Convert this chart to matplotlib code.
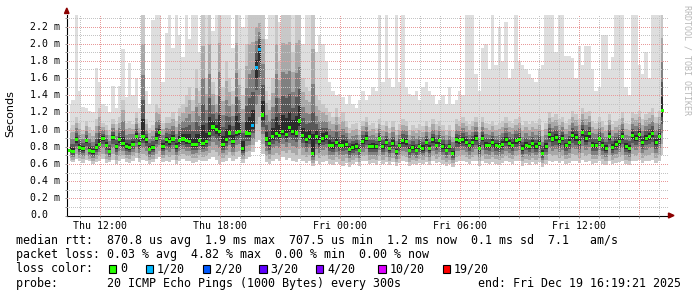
import matplotlib
matplotlib.use("Agg")
import matplotlib.pyplot as plt
from matplotlib.patches import Polygon, Rectangle
import numpy as np

# samples every 10 minutes, first one Thu 10:30 (hours since Thu 00:00)
t_start = 10.5
step = 1 / 6

# median rtt in ms
median = [
    0.76, 0.74, 0.88, 0.79, 0.78, 0.87,
    0.76, 0.74, 0.79, 0.83, 0.90, 0.82,
    0.74, 0.91, 0.80, 0.88, 0.84, 0.80,
    0.79, 0.83, 0.92, 0.84, 0.92, 0.88,
    0.77, 0.79, 0.90, 0.97, 0.80, 0.88,
    0.86, 0.89, 0.80, 0.87, 0.89, 0.87,
    0.86, 0.83, 0.83, 0.87, 0.84, 0.86,
    0.95, 1.03, 1.00, 0.98, 0.83, 0.88,
    0.96, 0.86, 0.97, 0.98, 0.78, 0.96,
    0.95, 1.05, 1.72, 1.93, 1.17, 0.89,
    0.84, 0.92, 0.95, 0.93, 0.98, 0.94,
    1.02, 0.98, 0.96, 1.10, 0.93, 0.88,
    0.92, 0.72, 0.92, 0.86, 0.90, 0.92,
    0.82, 0.81, 0.85, 0.81, 0.82, 0.83,
    0.77, 0.79, 0.80, 0.76, 0.86, 0.90,
    0.80, 0.80, 0.80, 0.89, 0.80, 0.85,
    0.78, 0.84, 0.74, 0.81, 0.87, 0.86,
    0.76, 0.79, 0.76, 0.80, 0.78, 0.85,
    0.78, 0.88, 0.82, 0.87, 0.80, 0.76,
    0.80, 0.72, 0.88, 0.87, 0.88, 0.85,
    0.81, 0.85, 0.90, 0.78, 0.90, 0.82,
    0.81, 0.85, 0.81, 0.80, 0.83, 0.88,
    0.84, 0.82, 0.87, 0.88, 0.78, 0.82,
    0.80, 0.84, 0.80, 0.84, 0.72, 0.80,
    0.94, 0.89, 0.91, 0.86, 0.90, 0.81,
    0.85, 0.93, 0.91, 0.85, 0.97, 0.90,
    0.95, 0.82, 0.81, 0.89, 0.81, 0.78,
    0.92, 0.79, 0.83, 0.86, 0.92, 0.80,
    0.78, 0.93, 0.90, 0.94, 0.85, 0.90,
    0.92, 0.95, 0.85, 0.92, 1.22,
]

# fastest ping
low = [
    0.64, 0.62, 0.66, 0.63, 0.61, 0.65,
    0.63, 0.60, 0.62, 0.64, 0.66, 0.61,
    0.62, 0.65, 0.60, 0.63, 0.66, 0.62,
    0.61, 0.64, 0.67, 0.62, 0.65, 0.63,
    0.60, 0.62, 0.66, 0.68, 0.62, 0.64,
    0.62, 0.65, 0.60, 0.63, 0.66, 0.63,
    0.64, 0.61, 0.62, 0.65, 0.63, 0.64,
    0.66, 0.68, 0.65, 0.60, 0.62, 0.64,
    0.67, 0.63, 0.66, 0.68, 0.61, 0.66,
    0.68, 0.74, 0.85, 0.88, 0.72, 0.62,
    0.60, 0.64, 0.66, 0.63, 0.68, 0.65,
    0.67, 0.64, 0.62, 0.66, 0.63, 0.61,
    0.64, 0.58, 0.63, 0.60, 0.62, 0.64,
    0.60, 0.59, 0.62, 0.60, 0.58, 0.61,
    0.57, 0.60, 0.62, 0.58, 0.63, 0.64,
    0.60, 0.61, 0.59, 0.63, 0.60, 0.62,
    0.59, 0.62, 0.58, 0.61, 0.63, 0.62,
    0.58, 0.60, 0.59, 0.61, 0.60, 0.62,
    0.59, 0.63, 0.61, 0.62, 0.60, 0.58,
    0.60, 0.57, 0.62, 0.63, 0.64, 0.62,
    0.60, 0.63, 0.64, 0.58, 0.63, 0.61,
    0.60, 0.62, 0.60, 0.59, 0.61, 0.63,
    0.62, 0.60, 0.63, 0.64, 0.58, 0.61,
    0.59, 0.62, 0.60, 0.62, 0.57, 0.60,
    0.64, 0.62, 0.63, 0.61, 0.63, 0.60,
    0.61, 0.64, 0.63, 0.61, 0.65, 0.62,
    0.64, 0.60, 0.61, 0.63, 0.60, 0.59,
    0.64, 0.60, 0.61, 0.62, 0.64, 0.60,
    0.59, 0.64, 0.63, 0.65, 0.61, 0.63,
    0.64, 0.65, 0.61, 0.64, 0.70,
]

# top of the dense part of the smoke
body = [
    1.02, 1.05, 1.15, 1.08, 1.00, 1.10,
    1.03, 0.98, 1.12, 1.25, 1.08, 1.05,
    1.00, 1.12, 1.06, 1.15, 1.35, 1.08,
    1.10, 1.06, 1.20, 1.08, 2.35, 1.12,
    1.02, 1.05, 1.30, 1.25, 1.08, 1.15,
    1.15, 1.20, 1.10, 1.25, 1.30, 1.40,
    1.50, 1.35, 1.70, 1.45, 2.35, 1.60,
    2.35, 1.55, 1.40, 2.35, 1.50, 1.80,
    1.60, 1.45, 2.35, 1.70, 1.40, 2.00,
    2.35, 2.35, 2.35, 2.35, 2.35, 1.45,
    1.35, 1.60, 2.35, 1.80, 2.35, 2.35,
    2.35, 1.90, 2.35, 2.35, 1.60, 1.50,
    1.45, 2.35, 1.40, 1.35, 1.30, 1.25,
    1.20, 1.15, 1.25, 1.15, 1.20, 1.10,
    1.02, 1.06, 1.08, 1.00, 1.10, 1.15,
    1.05, 1.08, 1.02, 1.12, 1.05, 1.10,
    1.02, 1.10, 1.00, 1.06, 1.12, 1.10,
    1.00, 1.05, 1.02, 1.06, 1.04, 1.10,
    1.03, 1.12, 1.06, 1.10, 1.05, 1.00,
    1.05, 0.98, 1.12, 1.10, 1.15, 1.10,
    1.06, 1.10, 1.15, 1.03, 1.15, 1.08,
    1.06, 1.10, 1.05, 1.08, 1.10, 1.15,
    1.10, 1.08, 1.12, 1.15, 1.05, 1.10,
    1.06, 1.10, 1.08, 1.12, 1.00, 1.08,
    1.20, 1.15, 1.18, 1.12, 1.15, 1.08,
    1.12, 1.22, 1.18, 1.12, 1.25, 1.20,
    1.22, 1.10, 1.08, 1.15, 1.10, 1.05,
    1.18, 1.06, 1.10, 1.12, 1.20, 1.08,
    1.06, 1.20, 1.18, 1.22, 1.12, 1.18,
    1.20, 1.25, 1.15, 1.22, 2.35,
]

# slowest ping
high = [
    1.30, 1.35, 2.35, 1.45, 1.26, 1.25,
    1.22, 1.20, 1.72, 1.55, 1.30, 1.28,
    1.20, 1.51, 1.25, 1.51, 1.94, 1.38,
    1.78, 1.40, 1.60, 1.25, 2.35, 1.45,
    1.30, 2.27, 2.35, 2.35, 1.55, 2.13,
    2.35, 1.95, 2.35, 2.10, 1.85, 2.35,
    2.05, 2.35, 2.35, 1.90, 2.35, 2.35,
    2.35, 2.15, 2.35, 2.35, 2.35, 2.35,
    2.35, 1.95, 2.35, 2.35, 2.20, 2.35,
    2.35, 2.35, 2.35, 2.35, 2.35, 2.05,
    2.35, 2.35, 2.35, 2.25, 2.35, 2.35,
    2.35, 2.35, 2.35, 2.35, 2.00, 2.35,
    2.35, 2.35, 1.90, 2.10, 2.00, 1.80,
    1.55, 1.45, 1.40, 1.42, 1.38, 1.30,
    1.40, 1.30, 1.25, 1.35, 1.45, 1.35,
    1.40, 1.50, 1.45, 2.35, 1.55, 2.35,
    1.60, 1.50, 2.35, 1.55, 2.35, 1.50,
    1.42, 1.40, 1.45, 1.35, 1.50, 1.55,
    1.45, 1.40, 1.30, 1.35, 1.40, 1.30,
    1.50, 1.30, 1.35, 1.45, 1.40, 2.35,
    2.35, 2.35, 1.65, 1.45, 1.95, 2.00,
    1.70, 2.35, 1.75, 2.20, 1.80, 2.25,
    1.60, 1.70, 2.35, 1.80, 1.75, 1.70,
    1.65, 1.60, 1.55, 1.70, 1.75, 2.35,
    2.35, 2.35, 1.90, 2.35, 2.35, 1.86,
    1.86, 1.83, 1.60, 1.97, 1.75, 1.97,
    1.97, 1.70, 1.45, 1.50, 2.10, 2.10,
    1.70, 1.85, 2.35, 2.35, 2.35, 1.50,
    1.40, 2.35, 2.35, 1.75, 1.65, 1.90,
    1.60, 2.35, 2.35, 2.35, 2.35,
]

# lost pings (of 20) where not zero, by sample index
loss = {55: 1, 56: 1, 57: 1}

loss_levels = [0, 1, 2, 3, 4, 10, 19]
loss_labels = ["0", "1/20", "2/20", "3/20", "4/20", "10/20", "19/20"]
loss_colors = ["#26ff00", "#00b8ff", "#0059ff", "#5e00ff", "#7e00ff", "#dd00ff", "#ff0000"]

legend_rtt = "median rtt:  870.8 us avg  1.9 ms max  707.5 us min  1.2 ms now  0.1 ms sd  7.1   am/s"
legend_loss = "packet loss: 0.03 % avg  4.82 % max  0.00 % min  0.00 % now"
legend_probe = "probe:       20 ICMP Echo Pings (1000 Bytes) every 300s"
legend_end = "end: Fri Dec 19 16:19:21 2025"

x_labels = {12: "Thu 12:00", 18: "Thu 18:00", 24: "Fri 00:00", 30: "Fri 06:00", 36: "Fri 12:00"}

W, H = 697, 297
MONO = "DejaVu Sans Mono"


def fx(px):
    return px / W


def fy(py):
    return 1 - py / H


fig = plt.figure(figsize=(W / 100, H / 100), dpi=100)
fig.patch.set_facecolor("white")
ax = fig.add_axes([fx(67), fy(215.5), fx(668) - fx(67), fy(15) - fy(215.5)])

med = np.array(median)
lo = np.array(low)
bd = np.array(body)
hi = np.array(high)
t = t_start + np.arange(len(med)) * step

# smoke: light outer range, then darker layers closing in on the median
ax.fill_between(t, lo, hi, step="mid", color="#dedede", lw=0, zorder=1)
for f, c in [(1.0, "#c8c8c8"), (0.75, "#a8a8a8"), (0.5, "#808080"),
             (0.3, "#585858"), (0.14, "#2c2c2c")]:
    ax.fill_between(t, med - f * (med - lo), med + f * (bd - med),
                    step="mid", color=c, lw=0, zorder=1)

col_of = dict(zip(loss_levels, loss_colors))
pt_colors = [col_of[loss.get(i, 0)] for i in range(len(med))]
ax.scatter(t, med, marker="s", s=5, c=pt_colors, lw=0, zorder=4)

ax.set_xlim(10.365, 40.43)
ax.set_ylim(0, 2.334)

ax.set_xticks(np.arange(12, 40, 3))
ax.set_xticklabels([x_labels.get(int(v), "") for v in np.arange(12, 40, 3)],
                   family=MONO, fontsize=7.1)
ax.set_xticks(np.arange(11, 41, 1), minor=True)
ax.set_yticks(np.arange(0, 2.21, 0.2))
ax.set_yticklabels([])
ax.set_yticks(np.arange(0.1, 2.31, 0.1), minor=True)

ax.grid(which="major", color="#e89a9a", ls=(0, (1, 2)), lw=0.72, antialiased=False)
ax.grid(which="minor", color="#c4c4c4", ls=(0, (1, 2)), lw=0.72, antialiased=False)
ax.set_axisbelow(False)
ax.tick_params(which="both", length=1.6, width=0.72, color="#909090", pad=2.2)

ylab_x = (30 - 67) / (668 - 67)
for v in np.arange(0, 2.21, 0.2):
    lab = "0.0" if v < 0.01 else f"{v:.1f} m"
    ax.text(ylab_x, v, lab, transform=ax.get_yaxis_transform(), ha="left",
            va="center", family=MONO, fontsize=7.1, color="black")

for s in ["top", "right"]:
    ax.spines[s].set_visible(False)
for s in ["left", "bottom"]:
    ax.spines[s].set_color("black")
    ax.spines[s].set_linewidth(0.8)

# axis arrow heads
fig.add_artist(Polygon([(fx(64.5), fy(13.5)), (fx(69), fy(13.5)), (fx(66.8), fy(8))],
                       closed=True, color="#8b0000", transform=fig.transFigure))
fig.add_artist(Polygon([(fx(668.5), fy(213)), (fx(668.5), fy(218)), (fx(674), fy(215.5))],
                       closed=True, color="#8b0000", transform=fig.transFigure))

fig.text(fx(10), fy(113.5), "Seconds", rotation=90, ha="center", va="center",
         family="DejaVu Sans", fontsize=8)
fig.text(fx(687.5), fy(5), "RRDTOOL / TOBI OETIKER", rotation=270, ha="center",
         va="top", family=MONO, fontsize=6, color="#b8b8b8")

# legend block
fig.text(fx(16), fy(244), legend_rtt, family=MONO, fontsize=8.4, va="baseline")
fig.text(fx(16), fy(258.3), legend_loss, family=MONO, fontsize=8.4, va="baseline")
fig.text(fx(16), fy(272.3), "loss color:", family=MONO, fontsize=8.4, va="baseline")
box_x = [108.5, 145.5, 202.5, 259.0, 315.5, 378.0, 442.5]
for bx, lab, c in zip(box_x, loss_labels, loss_colors):
    fig.add_artist(Rectangle((fx(bx), fy(272.5)), fx(7.5), fy(0) - fy(7.5),
                             facecolor=c, edgecolor="black", lw=0.8,
                             transform=fig.transFigure))
    fig.text(fx(bx + 11.5), fy(272.3), lab, family=MONO, fontsize=8.4, va="baseline")
fig.text(fx(16), fy(286.7), legend_probe, family=MONO, fontsize=8.4, va="baseline")
fig.text(fx(478), fy(286.7), legend_end, family=MONO, fontsize=8.4, va="baseline")

fig.savefig("out.png", dpi=100)
